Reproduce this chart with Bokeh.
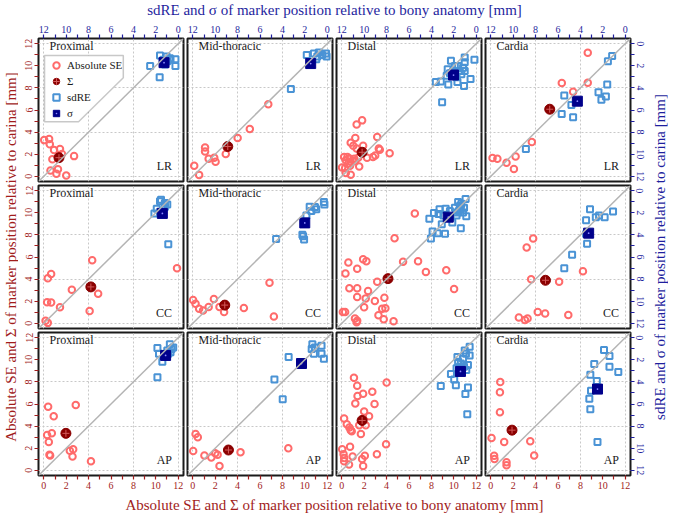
import math
from bokeh.plotting import figure
from bokeh.models import (Range1d, LinearAxis, FixedTicker, Slope, Label, Legend,
                          LegendItem, PolyAnnotation, Grid)
from bokeh.layouts import column, row
from bokeh.embed import file_html
from bokeh.resources import INLINE

# ---------------- data (mm) ----------------
regions = ["Proximal", "Mid-thoracic", "Distal", "Cardia"]
directions = ["LR", "CC", "AP"]
major_ticks = [0, 2, 4, 6, 8, 10, 12]
minor_ticks = [1, 3, 5, 7, 9, 11]
grid_ticks = [0, 4, 8, 12]

# LR
lr_prox_se_bony = [0.03, 0.47, 0.53, 0.91, 1.44, 1.62, 0.76, 2.70, 0.59, 1.26, 1.12, 2.00]
lr_prox_se_carina = [3.27, 3.38, 2.89, 2.37, 2.46, 2.02, 1.53, 1.82, 0.52, 0.64, 0.23, 0.06]
lr_prox_sd_bony = [1.62, 2.50, 1.65, 1.03, 0.74, 0.24, 0.24, 0.68, 1.18, 0.97, 1.32]
lr_prox_sd_carina = [1.07, 2.02, 3.03, 1.16, 1.30, 1.39, 2.02, 1.45, 1.88, 1.59, 1.45]

lr_mid_se_bony = [0.12, 0.56, 1.09, 1.09, 1.41, 1.91, 2.03, 2.94, 4.00, 5.09, 6.74]
lr_mid_se_carina = [0.95, 0.12, 2.60, 2.23, 1.59, 1.68, 1.30, 2.02, 3.47, 4.28, 6.53]
lr_mid_sd_bony = [3.24, 1.82, 1.18, 0.74, 0.88, 0.44, 0.10, 0.05, 0.97]
lr_mid_sd_carina = [4.10, 1.01, 0.87, 0.78, 1.16, 1.01, 0.87, 1.16, 1.39]

lr_dist_se_bony = [1.81, 1.32, 3.16, 1.20, 0.79, 1.02, 1.90, 1.32, 3.30, 3.39, 4.27, 0.20, 0.50, 0.73, 1.11,
                   1.46, 2.25, 2.78, 2.98, 0.35, 0.79, 1.17, 0.02, 0.29, 1.55, 0.73, 0.35, 0.79, 0.58]
lr_dist_se_carina = [5.06, 4.68, 3.55, 3.47, 3.03, 2.75, 2.75, 2.51, 2.51, 2.40, 2.08, 1.73, 1.73, 1.59, 1.59,
                     1.68, 1.68, 1.73, 1.88, 1.45, 1.30, 1.36, 0.78, 0.72, 0.87, 0.95, 0.29, 0.14, 1.16]
lr_dist_sd_bony = [3.04, 3.60, 3.16, 2.49, 2.25, 1.02, 0.15, 1.02, 0.50, 1.08, 1.67, 2.54, 2.63, 1.61, 1.46,
                   1.17, 2.05, 1.90, 2.34, 1.02, 1.32, 1.75]
lr_dist_sd_carina = [5.29, 3.47, 3.41, 3.70, 1.53, 1.24, 1.45, 1.68, 3.18, 3.82, 3.47, 2.31, 2.89, 2.02, 2.46,
                     2.17, 2.46, 2.02, 2.66, 2.46, 2.75, 3.03]

lr_card_se_bony = [0.15, 0.58, 1.40, 2.21, 2.06, 3.66, 6.34, 7.35, 8.66, 8.66]
lr_card_se_carina = [1.65, 1.59, 1.21, 1.79, 0.66, 3.09, 8.44, 7.66, 8.47, 11.19]
lr_card_sd_bony = [8.87, 5.44, 5.67, 4.80, 4.65, 2.38, 1.72, 1.60, 2.12, 1.54, 1.16]
lr_card_sd_carina = [9.54, 4.68, 6.36, 5.55, 6.65, 4.39, 4.77, 3.70, 5.06, 1.59, 1.10]

# CC
cc_prox_se_bony = [0.15, 0.35, 0.35, 0.65, 0.29, 0.65, 1.44, 2.50, 4.32, 4.85, 4.09, 11.90]
cc_prox_se_carina = [0.23, 0.03, 4.07, 4.47, 1.90, 1.87, 1.44, 3.03, 5.71, 2.68, 1.10, 4.99]
cc_prox_sd_bony = [2.12, 1.91, 1.62, 1.53, 1.18, 0.97, 1.18, 1.41, 0.88, 1.62]
cc_prox_sd_carina = [2.05, 1.62, 0.95, 0.81, 1.10, 1.24, 1.47, 1.90, 4.85, 1.90]

cc_mid_se_bony = [0.02, 0.24, 0.56, 0.91, 1.41, 1.88, 2.38, 2.79, 4.56, 6.85, 7.24]
cc_mid_se_carina = [2.10, 1.76, 1.30, 1.15, 1.47, 2.19, 1.47, 1.01, 1.38, 3.66, 0.61]
cc_mid_sd_bony = [4.56, 2.15, 2.06, 2.21, 1.85, 1.56, 1.41, 1.09, 0.97, 0.29, 0.24]
cc_mid_sd_carina = [4.36, 4.12, 4.41, 3.98, 2.25, 1.44, 1.82, 1.47, 1.67, 1.01, 1.24]

cc_dist_se_bony = [6.52, 4.71, 0.58, 0.32, 1.37, 1.90, 2.19, 5.47, 6.81, 7.51, 9.33, 10.03, 0.67, 1.37, 2.34,
                   3.16, 1.37, 2.13, 2.95, 3.80, 0.09, 0.29, 1.99, 3.60, 3.89, 3.27, 1.17, 1.37, 1.32, 3.74, 4.62]
cc_dist_se_carina = [9.95, 7.70, 5.51, 4.50, 4.93, 5.80, 5.62, 5.57, 5.62, 4.64, 4.79, 3.09, 3.17, 3.17, 2.91,
                     3.75, 2.37, 2.25, 2.02, 2.31, 1.01, 1.01, 1.44, 1.30, 1.36, 0.72, 0.43, 0.23, 0.09, 0.35, 0.17]
cc_dist_sd_bony = [4.18, 3.89, 3.45, 2.78, 4.04, 3.07, 1.37, 2.13, 3.77, 3.27, 2.72, 3.36, 2.92, 2.34, 1.75,
                   1.61, 1.46, 1.32, 1.08, 0.94, 0.88, 1.37, 1.90, 1.67, 1.17, 1.55]
cc_dist_sd_carina = [2.54, 3.69, 3.84, 3.89, 4.33, 3.03, 3.40, 2.88, 2.02, 1.67, 1.62, 2.10, 2.25, 1.82, 2.25,
                     1.01, 1.38, 1.18, 1.53, 0.75, 2.31, 1.67, 1.53, 1.96, 1.96, 1.82]

cc_card_se_bony = [3.78, 3.20, 3.60, 6.10, 8.23, 4.19, 4.85, 6.92, 2.50, 3.05, 3.28]
cc_card_se_carina = [7.67, 6.86, 3.98, 3.75, 4.70, 1.01, 0.89, 0.75, 0.52, 0.29, 0.43]
cc_card_sd_bony = [3.14, 3.49, 2.62, 2.33, 1.83, 1.08, 3.49, 3.40, 4.74, 5.44]
cc_card_sd_carina = [1.67, 2.68, 2.39, 2.25, 2.39, 1.87, 3.92, 4.79, 5.80, 7.01]

# AP
ap_prox_se_bony = [0.38, 0.88, 2.85, 0.29, 0.71, 0.44, 0.56, 0.50, 2.32, 2.62, 2.56, 4.21]
ap_prox_se_carina = [5.76, 4.88, 5.90, 3.20, 3.34, 2.56, 1.34, 1.40, 1.77, 1.89, 1.25, 0.81]
ap_prox_sd_bony = [1.85, 1.85, 1.71, 1.41, 0.74, 0.59, 0.44, 0.88, 0.68, 0.97]
ap_prox_sd_carina = [3.58, 0.93, 1.45, 2.18, 0.58, 1.02, 0.87, 1.45, 1.31, 1.16]

ap_mid_se_bony = [0.03, 0.24, 0.44, 1.03, 1.65, 2.00, 2.21, 2.38, 4.26, 8.53]
ap_mid_se_carina = [1.74, 3.28, 2.99, 1.34, 1.16, 1.54, 1.40, 0.38, 1.63, 1.98]
ap_mid_sd_bony = [4.71, 3.97, 3.44, 1.32, 1.09, 1.38, 0.50, 1.18, 0.50, 0.29]
ap_mid_sd_carina = [3.78, 5.58, 1.74, 0.58, 0.87, 1.02, 0.73, 1.45, 1.45, 1.89]

ap_dist_se_bony = [1.08, 1.37, 4.00, 1.40, 1.90, 2.72, 1.20, 2.92, 1.99, 2.43, 0.20, 0.44, 0.67, 0.79, 0.88,
                   1.55, 2.13, 1.70, 0.73, 0.03, 0.15, 0.20, 0.20, 0.64, 0.96, 1.81, 2.05, 1.90, 3.13, 3.95]
ap_dist_se_carina = [8.37, 7.65, 7.94, 6.72, 6.92, 7.12, 6.05, 6.00, 5.32, 4.88, 4.68, 4.16, 3.87, 3.63, 3.52,
                     4.07, 4.07, 3.28, 2.12, 1.89, 1.45, 1.10, 0.81, 0.52, 1.25, 1.02, 1.31, 0.38, 1.45, 2.35]
ap_dist_sd_bony = [3.16, 2.25, 1.96, 1.81, 0.96, 0.73, 0.79, 1.67, 1.61, 1.46, 1.02, 0.58, 0.58, 0.73, 0.88,
                   1.17, 1.37, 1.08, 1.75, 1.32, 0.91]
ap_dist_sd_carina = [4.36, 3.28, 3.78, 4.30, 5.09, 4.51, 6.92, 1.74, 2.18, 2.62, 1.16, 0.81, 1.60, 2.47, 2.91,
                     1.89, 2.33, 2.62, 2.76, 2.91, 1.45]

ap_card_se_bony = [0.84, 0.81, 0.81, 0.06, 1.19, 0.29, 0.32, 1.40, 1.40, 3.52, 3.87]
ap_card_se_carina = [7.99, 7.06, 5.26, 2.91, 2.56, 1.31, 1.02, 0.73, 0.44, 2.62, 1.34]
ap_card_sd_bony = [1.89, 1.40, 1.40, 0.61, 2.76, 3.11, 2.53, 3.05, 3.20, 3.11, 2.47]
ap_card_sd_carina = [1.10, 1.66, 2.62, 3.11, 2.38, 3.34, 3.92, 4.80, 5.52, 6.48, 9.45]

# population systematic (Sigma) and random (sigma) errors, per region order
Sigma_bony_LR = [1.35, 3.12, 1.81, 5.26]
Sigma_carina_LR = [1.68, 2.69, 2.17, 6.07]
sigma_bony_LR = [1.26, 1.47, 2.02, 4.27]
sigma_carina_LR = [1.71, 1.79, 2.83, 5.20]
Sigma_bony_CC = [4.20, 2.85, 4.12, 4.88]
Sigma_carina_CC = [3.29, 1.64, 4.04, 3.89]
sigma_bony_CC = [1.41, 2.00, 2.49, 3.26]
sigma_carina_CC = [2.05, 2.91, 2.39, 3.84]
Sigma_bony_AP = [1.97, 3.18, 1.81, 1.89]
Sigma_carina_AP = [3.34, 1.83, 4.51, 3.63]
sigma_bony_AP = [1.12, 2.29, 1.40, 2.47]
sigma_carina_AP = [1.60, 2.33, 3.05, 4.65]

panel_points = {
    ("LR", 0): (lr_prox_se_bony, lr_prox_se_carina, lr_prox_sd_bony, lr_prox_sd_carina),
    ("LR", 1): (lr_mid_se_bony, lr_mid_se_carina, lr_mid_sd_bony, lr_mid_sd_carina),
    ("LR", 2): (lr_dist_se_bony, lr_dist_se_carina, lr_dist_sd_bony, lr_dist_sd_carina),
    ("LR", 3): (lr_card_se_bony, lr_card_se_carina, lr_card_sd_bony, lr_card_sd_carina),
    ("CC", 0): (cc_prox_se_bony, cc_prox_se_carina, cc_prox_sd_bony, cc_prox_sd_carina),
    ("CC", 1): (cc_mid_se_bony, cc_mid_se_carina, cc_mid_sd_bony, cc_mid_sd_carina),
    ("CC", 2): (cc_dist_se_bony, cc_dist_se_carina, cc_dist_sd_bony, cc_dist_sd_carina),
    ("CC", 3): (cc_card_se_bony, cc_card_se_carina, cc_card_sd_bony, cc_card_sd_carina),
    ("AP", 0): (ap_prox_se_bony, ap_prox_se_carina, ap_prox_sd_bony, ap_prox_sd_carina),
    ("AP", 1): (ap_mid_se_bony, ap_mid_se_carina, ap_mid_sd_bony, ap_mid_sd_carina),
    ("AP", 2): (ap_dist_se_bony, ap_dist_se_carina, ap_dist_sd_bony, ap_dist_sd_carina),
    ("AP", 3): (ap_card_se_bony, ap_card_se_carina, ap_card_sd_bony, ap_card_sd_carina),
}
population = {
    "LR": (Sigma_bony_LR, Sigma_carina_LR, sigma_bony_LR, sigma_carina_LR),
    "CC": (Sigma_bony_CC, Sigma_carina_CC, sigma_bony_CC, sigma_carina_CC),
    "AP": (Sigma_bony_AP, Sigma_carina_AP, sigma_bony_AP, sigma_carina_AP),
}

# ---------------- style ----------------
SERIF = "Liberation Serif"
RED_TXT = "#a11c1c"
BLUE_TXT = "#1f1f9e"
C_SE = "#ff6b6b"
C_SIG_BIG = "#8b0000"
C_SD = "#4a93d5"
C_SIG_SMALL = "#00008b"
LO, HI = -0.48, 12.48
FW, FH = 145, 143
OUT, IN = 20, 2
LBL = 18


def style_axis(ax, color, vertical):
    ax.ticker = FixedTicker(ticks=major_ticks, minor_ticks=minor_ticks)
    ax.major_tick_in = 0
    ax.major_tick_out = 4
    ax.minor_tick_in = 0
    ax.minor_tick_out = 4
    ax.major_tick_line_color = color
    ax.minor_tick_line_color = color
    ax.major_tick_line_width = 1.2
    ax.minor_tick_line_width = 1.2
    ax.axis_line_color = None
    ax.major_label_text_color = color
    ax.major_label_text_font = SERIF
    ax.major_label_text_font_size = "10px"
    ax.major_label_standoff = 2
    if vertical:
        ax.major_label_orientation = "vertical"


def make_panel(i, j):
    d = directions[i]
    left, right, top, bottom = (j == 0), (j == 3), (i == 0), (i == 2)
    p = figure(frame_width=FW, frame_height=FH,
               x_range=Range1d(LO, HI), y_range=Range1d(LO, HI),
               x_axis_location=None, y_axis_location=None,
               toolbar_location=None, output_backend="svg",
               min_border_left=OUT if left else IN,
               min_border_right=OUT if right else IN,
               min_border_top=OUT if top else IN,
               min_border_bottom=OUT if bottom else IN)
    p.extra_x_ranges = {"bx": Range1d(HI, LO)}
    p.extra_y_ranges = {"by": Range1d(HI, LO)}
    p.outline_line_color = "#1a1a1a"
    p.outline_line_width = 2
    p.background_fill_color = "white"
    p.border_fill_color = "white"
    p.center = []
    p.add_layout(Grid(dimension=0, ticker=FixedTicker(ticks=grid_ticks),
                      grid_line_color="#c8c8c8", grid_line_dash="2 2"))
    p.add_layout(Grid(dimension=1, ticker=FixedTicker(ticks=grid_ticks),
                      grid_line_color="#c8c8c8", grid_line_dash="2 2"))
    p.add_layout(Slope(gradient=1, y_intercept=0, line_color="#b4b4b4", line_width=1.5))

    if left:
        ax = LinearAxis()
        style_axis(ax, RED_TXT, True)
        p.add_layout(ax, "left")
    if bottom:
        ax = LinearAxis()
        style_axis(ax, RED_TXT, False)
        p.add_layout(ax, "below")
    if top:
        ax = LinearAxis(x_range_name="bx")
        style_axis(ax, BLUE_TXT, False)
        p.add_layout(ax, "above")
    if right:
        ax = LinearAxis(y_range_name="by")
        style_axis(ax, BLUE_TXT, True)
        p.add_layout(ax, "right")

    se_b, se_c, sd_b, sd_c = panel_points[(d, j)]
    Sb, Sc, sb, sc = population[d]

    r_se = p.scatter(se_b, se_c, marker="circle", size=6.5, fill_color=None,
                     line_color=C_SE, line_width=2)
    r_S1 = p.scatter([Sb[j]], [Sc[j]], marker="circle", size=10, fill_color=C_SIG_BIG,
                     line_color=C_SIG_BIG, line_width=1)
    r_S2 = p.scatter([Sb[j]], [Sc[j]], marker="cross", size=7, line_color="#d25a5a",
                     line_width=1)
    r_sd = p.scatter(sd_b, sd_c, marker="square", size=6, fill_color=None,
                     line_color=C_SD, line_width=2, x_range_name="bx", y_range_name="by")
    r_s1 = p.scatter([sb[j]], [sc[j]], marker="square", size=10, fill_color=C_SIG_SMALL,
                     line_color=C_SIG_SMALL, line_width=1, x_range_name="bx", y_range_name="by")
    r_s2 = p.scatter([sb[j]], [sc[j]], marker="dot", size=7, line_color="#8c8cff",
                     fill_color="#8c8cff", x_range_name="bx", y_range_name="by")

    p.add_layout(Label(x=0.5, y=11.15, text=regions[j], text_font=SERIF,
                       text_font_size="12px", text_color="#1a1a1a"))
    p.add_layout(Label(x=11.45, y=0.28, text=d, text_font=SERIF, text_align="right",
                       text_font_size="12px", text_color="#1a1a1a"))

    if i == 0 and j == 0:
        p.add_layout(PolyAnnotation(xs=[0.06, 7.1, 7.1, 3.1, 0.06],
                                    ys=[10.93, 10.93, 8.93, 4.93, 4.93],
                                    fill_color="white", fill_alpha=1.0,
                                    line_color="#4a4a4a", line_width=1.5))
        legend = Legend(items=[LegendItem(label="Absolute SE", renderers=[r_se]),
                               LegendItem(label="\u03a3", renderers=[r_S1, r_S2]),
                               LegendItem(label="sdRE", renderers=[r_sd]),
                               LegendItem(label="\u03c3", renderers=[r_s1, r_s2])],
                        location=(10, 60), orientation="vertical",
                        background_fill_alpha=0, border_line_color=None,
                        padding=0, margin=0, spacing=0,
                        glyph_height=16, glyph_width=16, label_height=16,
                        label_standoff=3, label_text_font=SERIF,
                        label_text_font_size="11px", label_text_color="#1a1a1a")
        p.add_layout(legend)
    return p


def text_fig(w, h, x, y, text, color, angle=0.0):
    f = figure(width=w, height=h, x_range=Range1d(0, w), y_range=Range1d(0, h),
               x_axis_location=None, y_axis_location=None, toolbar_location=None,
               output_backend="svg", min_border=0)
    f.outline_line_color = None
    f.center = []
    f.add_layout(Label(x=x, y=y, text=text, angle=angle, text_align="center",
                       text_baseline="middle", text_font=SERIF, text_font_size="15px",
                       text_color=color))
    return f


grid_rows = [row(*[make_panel(i, j) for j in range(4)]) for i in range(3)]
grid = column(*grid_rows)

grid_w = 2 * (OUT + FW + IN) + 2 * (IN + FW + IN)
grid_h = 2 * (OUT + FH + IN) + (IN + FH + IN)
total_w = grid_w + 2 * LBL
frame_cx = LBL + OUT + (4 * FW + 6 * IN) / 2

top_lbl = text_fig(total_w, LBL, frame_cx, 9,
                   "sdRE and \u03c3 of marker position relative to bony anatomy [mm]", BLUE_TXT)
bot_lbl = text_fig(total_w, LBL, frame_cx, 9,
                   "Absolute SE and \u03a3 of marker position relative to bony anatomy [mm]", RED_TXT)
left_lbl = text_fig(LBL, grid_h, 10, grid_h / 2,
                    "Absolute SE and \u03a3 of marker position relative to carina [mm]", RED_TXT,
                    angle=math.pi / 2)
right_lbl = text_fig(LBL, grid_h, 9, grid_h / 2,
                     "sdRE and \u03c3 of marker position relative to carina [mm]", BLUE_TXT,
                     angle=math.pi / 2)

layout = column(top_lbl, row(left_lbl, grid, right_lbl), bot_lbl)

open("out.html", "w").write(file_html(layout, INLINE))
